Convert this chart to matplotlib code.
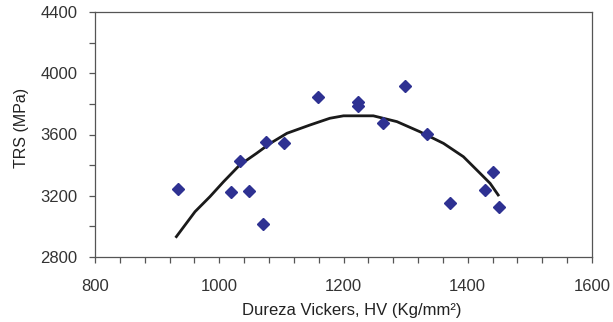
import numpy as np
import matplotlib.pyplot as plt
from matplotlib.ticker import MultipleLocator

plt.rcParams['font.family'] = ['Liberation Sans', 'DejaVu Sans']

# measured points (HV, TRS)
hv = [933, 1019, 1034, 1048, 1070, 1076, 1104, 1159, 1224, 1224, 1264, 1299, 1334, 1371, 1427, 1440, 1450]
trs = [3245, 3222, 3430, 3228, 3018, 3553, 3547, 3844, 3812, 3783, 3677, 3916, 3604, 3150, 3236, 3352, 3128]

# trend line
fit_hv = [931, 961, 985, 1007, 1033, 1060, 1082, 1109, 1146, 1178, 1200, 1248,
          1286, 1323, 1361, 1393, 1420, 1436, 1449]
fit_trs = [2933, 3096, 3194, 3292, 3401, 3477, 3542, 3608, 3662, 3706, 3722, 3722,
           3684, 3618, 3542, 3455, 3346, 3281, 3205]

fig = plt.figure(figsize=(6.13, 3.22), dpi=100)
ax = fig.add_axes([95/613, 1 - 257/322, (592 - 95)/613, (257 - 12)/322])

ax.plot(fit_hv, fit_trs, color='#1a1a1a', lw=2.0, zorder=2)
ax.plot(hv, trs, 'D', color='#2e3192', markersize=6.5, zorder=3)

ax.set_xlim(800, 1600)
ax.set_ylim(2800, 4400)
ax.xaxis.set_major_locator(MultipleLocator(200))
ax.xaxis.set_minor_locator(MultipleLocator(40))
ax.yaxis.set_major_locator(MultipleLocator(400))
ax.yaxis.set_minor_locator(MultipleLocator(200))

for s in ax.spines.values():
    s.set_color('#555555')
    s.set_linewidth(0.9)

ax.tick_params(which='both', direction='out', color='#555555', labelcolor='#333333',
               labelsize=12, width=0.9, length=4.5)
ax.tick_params(axis='x', which='major', pad=11)
ax.tick_params(axis='y', which='major', pad=8)

ax.set_xlabel('Dureza Vickers, HV (Kg/mm²)', fontsize=12, color='#222222')
ax.set_ylabel('TRS (MPa)', fontsize=11.5, color='#222222')
ax.xaxis.set_label_coords((352 - 95) / 497, (257 - 310) / 245)
ax.yaxis.set_label_coords((22 - 95) / 497, (257 - 127.5) / 245)
ax.xaxis.label.set_va('center')
ax.yaxis.label.set_va('center')

fig.savefig('out.png', dpi=100)
